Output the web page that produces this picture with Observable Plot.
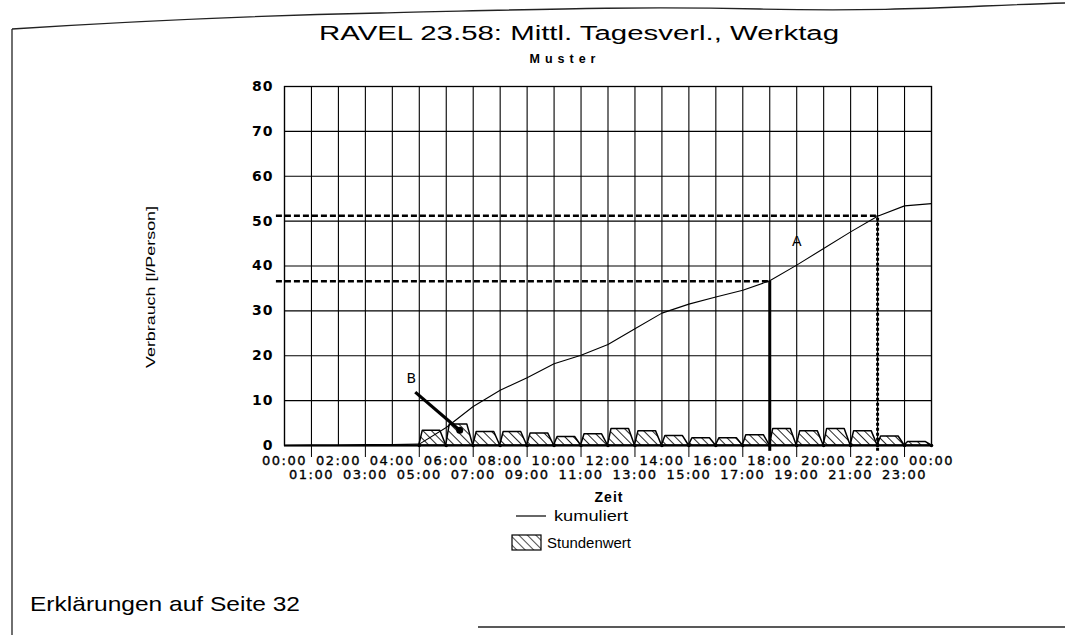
<!DOCTYPE html>
<html><head><meta charset="utf-8">
<script src="https://cdn.jsdelivr.net/npm/d3@7"></script>
<script src="https://cdn.jsdelivr.net/npm/@observablehq/plot@0.6"></script>
<style>
body{margin:0;background:#fff;}
#wrap{position:relative;width:1065px;height:635px;overflow:hidden;background:#fff;}
#wrap > svg{position:absolute;left:0;top:0;}
g[aria-label="x-axis tick label"] text{letter-spacing:1.5px;stroke:#000;stroke-width:0.35px;}
g[aria-label="y-axis tick label"] text{letter-spacing:1px;}
</style></head><body><div id="wrap"></div>
<script>
// ---- data ----
const hours = [0,1,2,3,4,5,6,7,8,9,10,11,12,13,14,15,16,17,18,19,20,21,22,23,24];
const cumulative = [0,0.1,0.1,0.2,0.2,0.3,4.0,8.7,12.3,15.1,18.2,20.1,22.5,26.0,29.5,31.5,33.1,34.6,36.7,40.2,43.9,47.6,51.1,53.4,53.9];
const barStart = [5,6,7,8,9,10,11,12,13,14,15,16,17,18,19,20,21,22,23];
const hourlyValues = [3.3,4.7,3.0,3.0,2.7,1.9,2.5,3.7,3.2,2.1,1.6,1.6,2.3,3.7,3.2,3.7,3.2,2.0,0.8];
const yTicks = [0,10,20,30,40,50,60,70,80];
const xTickLabels = ["00:00","01:00","02:00","03:00","04:00","05:00","06:00","07:00","08:00","09:00","10:00","11:00","12:00","13:00","14:00","15:00","16:00","17:00","18:00","19:00","20:00","21:00","22:00","23:00","00:00"];
const markerHours = [18,22];
const markerValues = [36.6,51.2];
const labelText = ["A","B"];
const labelHours = [19.0,4.7];
const labelValues = [45.5,15.0];
const arrowB = {x1:4.85,y1:11.9,x2:6.5,y2:3.4};

// ---- derived tables ----
const cumData = hours.map((h,i)=>({h, v:cumulative[i]}));
const barShapes = barStart.flatMap((h,i)=>[
  {bar:i,x:h,y:0},{bar:i,x:h+0.13,y:hourlyValues[i]},{bar:i,x:h+0.78,y:hourlyValues[i]},{bar:i,x:h+1,y:0}
]);
const markers = markerHours.map((h,i)=>({h, v:markerValues[i]}));
const labels = labelText.map((t,i)=>({t, h:labelHours[i], v:labelValues[i]}));
const evenHours = hours.filter(h=>h%2===0);
const oddHours = hours.filter(h=>h%2===1);
const fmt = h => xTickLabels[h];

const plot = Plot.plot({
  width:1065, height:635,
  marginLeft:284, marginRight:134, marginTop:86, marginBottom:190,
  x:{domain:[0,24], axis:null},
  y:{domain:[0,80], axis:null},
  style:{fontFamily:"DejaVu Sans, sans-serif", fontSize:"12px", color:"#000", background:"transparent", overflow:"visible"},
  marks:[
    Plot.ruleY(yTicks,{stroke:"#000", strokeWidth:1.1}),
    Plot.ruleX(hours,{stroke:"#000", strokeWidth:1.1}),
    Plot.frame({stroke:"#000", strokeWidth:1.3}),
    Plot.areaY(barShapes,{x:"x", y:"y", z:"bar", fill:"url(#hatch)", stroke:"#000", strokeWidth:1.5, curve:"linear"}),
    Plot.dot(barStart.concat([24]).map(h=>({h})),{x:"h", y:()=>0, r:1.8, fill:"#000", stroke:"none"}),
    Plot.ruleY([0],{stroke:"#000", strokeWidth:2}),
    Plot.line(cumData,{x:"h", y:"v", stroke:"#000", strokeWidth:1.1}),
    Plot.ruleY(markers,{y:"v", x1:()=>-0.3, x2:"h", stroke:"#000", strokeWidth:2.6, strokeDasharray:"6,3"}),
    Plot.ruleX(markers.filter(d=>d.h===18),{x:"h", y1:()=>-1.3, y2:"v", stroke:"#000", strokeWidth:3}),
    Plot.ruleX(markers.filter(d=>d.h===22),{x:"h", y1:()=>-1.3, y2:"v", stroke:"#000", strokeWidth:3, strokeDasharray:"3,2"}),
    Plot.link([arrowB],{x1:"x1", y1:"y1", x2:"x2", y2:"y2", stroke:"#000", strokeWidth:3.2}),
    Plot.dot([arrowB],{x:"x2", y:"y2", r:3.5, fill:"#000"}),
    Plot.text(labels,{x:"h", y:"v", text:"t", fontSize:14, fontFamily:"DejaVu Sans", fill:"#000"}),
    Plot.axisX(evenHours,{tickSize:0, tickPadding:10, tickFormat:fmt, fontSize:13}),
    Plot.axisX(oddHours,{tickSize:12, tickPadding:12, tickFormat:fmt, fontSize:13, stroke:"#000"}),
    Plot.axisY(yTicks,{tickSize:0, tickPadding:11, fontSize:14, fontWeight:"bold"})
  ]
});
const svgEl = plot.tagName.toLowerCase()==="svg" ? plot : plot.querySelector("svg");
d3.select(svgEl).insert("defs",":first-child").html(
  '<pattern id="hatch" patternUnits="userSpaceOnUse" width="6" height="6" patternTransform="rotate(-45)">' +
  '<rect width="6" height="6" fill="#fff"/><line x1="0" y1="0" x2="0" y2="6" stroke="#000" stroke-width="1.7"/></pattern>');
document.getElementById("wrap").appendChild(plot);

// ---- overlay: page frame, titles, legend, note ----
const ov = d3.select("#wrap").append("svg").attr("width",1065).attr("height",635)
  .style("font-family","'Liberation Sans', Arial, sans-serif");
ov.append("defs").html('<pattern id="hatch2" patternUnits="userSpaceOnUse" width="6" height="6" patternTransform="rotate(-45)">' +
  '<rect width="6" height="6" fill="#fff"/><line x1="0" y1="0" x2="0" y2="6" stroke="#000" stroke-width="1.4"/></pattern>');
ov.append("path").attr("d","M12,29 C120,22 240,16 380,13 S 620,6 760,9 S 960,6 1065,3")
  .attr("fill","none").attr("stroke","#222").attr("stroke-width",1.3);
ov.append("line").attr("x1",12).attr("y1",29).attr("x2",12).attr("y2",635).attr("stroke","#222").attr("stroke-width",1.3);
ov.append("line").attr("x1",478).attr("y1",627).attr("x2",1065).attr("y2",627).attr("stroke","#222").attr("stroke-width",1.3);

const title = "RAVEL 23.58: Mittl. Tagesverl., Werktag";
const subtitle = "Muster";
const yLabel = "Verbrauch [l/Person]";
const xLabel = "Zeit";
const legendLine = "kumuliert";
const legendBar = "Stundenwert";
const note = "Erklärungen auf Seite 32";

ov.append("text").attr("x",579).attr("y",40).attr("text-anchor","middle").attr("font-size",20)
  .attr("textLength",520).attr("lengthAdjust","spacingAndGlyphs").text(title);
ov.append("text").attr("x",565).attr("y",63).attr("text-anchor","middle").attr("font-size",12.5).attr("font-weight","bold")
  .attr("letter-spacing","5px").text(subtitle);
ov.append("text").attr("transform","translate(155,287) rotate(-90)").attr("text-anchor","middle").attr("font-size",12.5)
  .attr("textLength",162).attr("lengthAdjust","spacingAndGlyphs").text(yLabel);
ov.append("text").attr("x",609).attr("y",502).attr("text-anchor","middle").attr("font-size",14).attr("font-weight","bold").attr("letter-spacing","1px").text(xLabel);
ov.append("line").attr("x1",516).attr("y1",516).attr("x2",546).attr("y2",516).attr("stroke","#000").attr("stroke-width",1.2);
ov.append("text").attr("x",554).attr("y",521).attr("font-size",14).attr("textLength",74).attr("lengthAdjust","spacingAndGlyphs").text(legendLine);
ov.append("rect").attr("x",512).attr("y",535).attr("width",29).attr("height",15).attr("fill","url(#hatch2)").attr("stroke","#000").attr("stroke-width",1.2);
ov.append("text").attr("x",547).attr("y",548).attr("font-size",14).attr("textLength",84).attr("lengthAdjust","spacingAndGlyphs").text(legendBar);
ov.append("text").attr("x",30).attr("y",611).attr("font-size",21).attr("textLength",270).attr("lengthAdjust","spacingAndGlyphs").text(note);
</script></body></html>
